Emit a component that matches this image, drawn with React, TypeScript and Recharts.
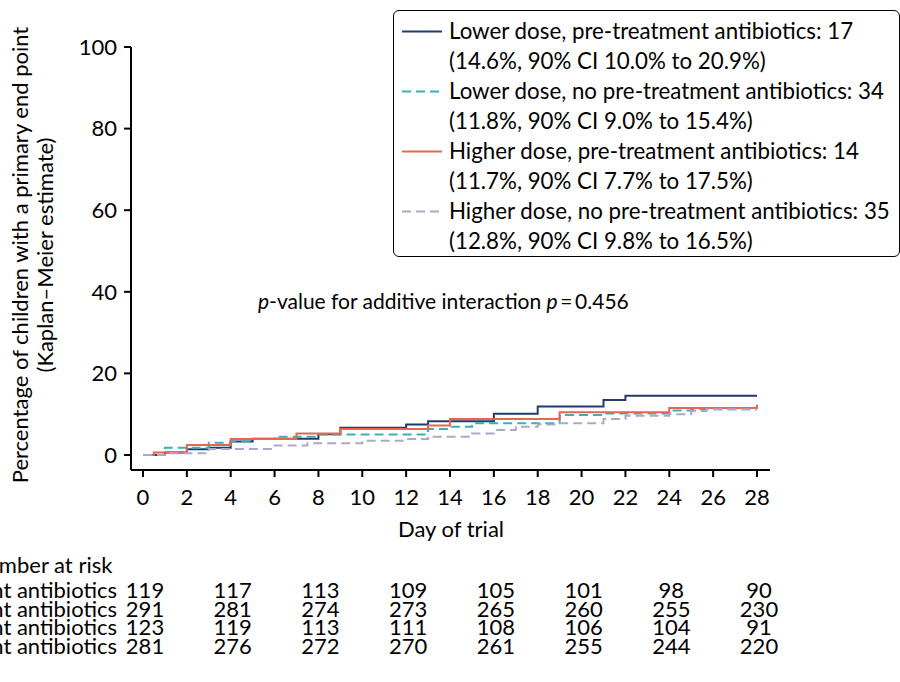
import React from 'react';
import { LineChart, Line, XAxis, YAxis, Customized } from 'recharts';

// Kaplan–Meier steps (day, % with primary end point)
const lowerPreDays = [0, 1, 2, 3, 4, 5, 8, 9, 12, 13, 16, 18, 21, 22, 28];
const lowerPreValues = [0, 0.6, 1.4, 1.8, 3.3, 4.0, 5.1, 6.7, 7.5, 8.3, 10.1, 11.9, 13.5, 14.5, 14.5];

const lowerNoDays = [0, 1, 3, 4, 5, 6, 8, 13, 14, 15, 19, 21, 24, 25, 28];
const lowerNoValues = [0, 1.8, 3.0, 3.4, 3.9, 4.5, 5.0, 6.4, 6.9, 7.8, 9.8, 10.2, 10.9, 11.2, 11.2];

const higherPreDays = [0, 0.5, 2, 4, 7, 9, 13, 14, 19, 24, 28];
const higherPreValues = [0, 0.6, 2.45, 3.9, 5.3, 6.4, 7.2, 8.8, 10.5, 11.5, 12.3];

const higherNoDays = [0, 1, 3, 6, 7.5, 10, 12, 13, 15, 16, 17, 18, 19, 21, 22, 24, 25, 25.7, 28];
const higherNoValues = [0, 0.4, 1.5, 2.3, 2.9, 3.5, 3.9, 4.5, 5.3, 6.1, 6.9, 7.5, 7.8, 8.8, 9.65, 10.0, 10.8, 11.2, 11.2];

const seriesNames = [
  'Lower dose, pre-treatment antibiotics',
  'Lower dose, no pre-treatment antibiotics',
  'Higher dose, pre-treatment antibiotics',
  'Higher dose, no pre-treatment antibiotics',
];
const seriesCounts = [17, 34, 14, 35];
const seriesCI = [
  '(14.6%, 90% CI 10.0% to 20.9%)',
  '(11.8%, 90% CI 9.0% to 15.4%)',
  '(11.7%, 90% CI 7.7% to 17.5%)',
  '(12.8%, 90% CI 9.8% to 16.5%)',
];
const seriesColors = ['#1f3c6e', '#35b3b6', '#ec6352', '#aaa9cc'];
const seriesDash = [undefined, '9 5', undefined, '9 5'];

const xTicks = [0, 2, 4, 6, 8, 10, 12, 14, 16, 18, 20, 22, 24, 26, 28];
const yTicks = [0, 20, 40, 60, 80, 100];

const riskDays = [0, 4, 8, 12, 16, 20, 24, 28];
const riskLowerPre = [119, 117, 113, 109, 105, 101, 98, 90];
const riskLowerNo = [291, 281, 274, 273, 265, 260, 255, 230];
const riskHigherPre = [123, 119, 113, 111, 108, 106, 104, 91];
const riskHigherNo = [281, 276, 272, 270, 261, 255, 244, 220];

const toPoints = (days: number[], vals: number[]) => days.map((d, i) => ({ day: d, pct: vals[i] }));
const seriesData = [
  toPoints(lowerPreDays, lowerPreValues),
  toPoints(lowerNoDays, lowerNoValues),
  toPoints(higherPreDays, higherPreValues),
  toPoints(higherNoDays, higherNoValues),
];
const riskRows = [riskLowerPre, riskLowerNo, riskHigherPre, riskHigherNo];

const FONT = 'Lato, "Open Sans", sans-serif';
const W = 900;
const H = 682;
const margin = { top: 47, right: 130, bottom: 172, left: 51 };
const padLeft = 12;
const padRight = 13;
const plotLeft = margin.left + 80;
const plotRight = W - margin.right;
const dayX = (d: number) => plotLeft + padLeft + (d / 28) * (plotRight - padRight - plotLeft - padLeft);

const TABLE_FS = 22;

const Annotations = () => (
  <g fontFamily={FONT} fill="#000">
    <text transform="translate(19,255) rotate(-90)" textAnchor="middle" dominantBaseline="central" fontSize={22}>
      Percentage of children with a primary end point
    </text>
    <text transform="translate(44,255) rotate(-90)" textAnchor="middle" dominantBaseline="central" fontSize={22}>
      (Kaplan–Meier estimate)
    </text>
    <text x={258} y={309} fontSize={21}>
      <tspan fontStyle="italic">p</tspan>-value for additive interaction <tspan fontStyle="italic">p</tspan>
      {'\u2009=\u20090.456'}
    </text>
    <text x={451} y={537} textAnchor="middle" fontSize={22}>Day of trial</text>
    <text x={-30} y={573} fontSize={TABLE_FS}>Number at risk</text>
    {riskRows.map((row, r) => (
      <g key={r}>
        <text x={117} y={598 + r * 18.7} textAnchor="end" fontSize={TABLE_FS}>{seriesNames[r]}</text>
        {row.map((n, i) => (
          <text key={i} x={dayX(riskDays[i]) + 2} y={598 + r * 18.7} textAnchor="middle" fontSize={TABLE_FS}>{n}</text>
        ))}
      </g>
    ))}
  </g>
);

const LegendBox = () => (
  <div
    style={{
      position: 'absolute',
      left: 393,
      top: 10,
      width: 507,
      height: 247,
      boxSizing: 'border-box',
      border: '1.5px solid #000',
      borderRadius: 6,
      background: '#fff',
      fontFamily: FONT,
      fontSize: 22.3,
      color: '#000',
    }}
  >
    {seriesNames.map((name, i) => (
      <div key={i} style={{ position: 'absolute', left: 0, top: 5 + i * 60, width: '100%' }}>
        <svg width={44} height={30} style={{ position: 'absolute', left: 7, top: 0 }}>
          <line x1={1} x2={41} y1={15.5} y2={15.5} stroke={seriesColors[i]} strokeWidth={2} strokeDasharray={seriesDash[i]} />
        </svg>
        <div style={{ position: 'absolute', left: 55, top: 0, lineHeight: '30px', whiteSpace: 'nowrap' }}>
          <div>{name}: {seriesCounts[i]}</div>
          <div>{seriesCI[i]}</div>
        </div>
      </div>
    ))}
  </div>
);

export default function App() {
  return (
    <div style={{ position: 'absolute', left: 0, top: 0, width: W, height: H, background: '#fff' }}>
      <LineChart width={W} height={H} margin={margin}>
        <XAxis
          type="number"
          dataKey="day"
          domain={[0, 28]}
          ticks={xTicks}
          padding={{ left: padLeft, right: padRight }}
          height={40}
          tickSize={7}
          tickMargin={12}
          axisLine={{ stroke: '#000', strokeWidth: 2 }}
          tickLine={{ stroke: '#000', strokeWidth: 2 }}
          tick={{ fill: '#000', fontSize: 22, fontFamily: FONT }}
          allowDuplicatedCategory={false}
        />
        <YAxis
          type="number"
          domain={[0, 100]}
          ticks={yTicks}
          width={80}
          padding={{ top: 0, bottom: 15 }}
          tickSize={7}
          tickMargin={7}
          axisLine={{ stroke: '#000', strokeWidth: 2 }}
          tickLine={{ stroke: '#000', strokeWidth: 2 }}
          tick={{ fill: '#000', fontSize: 22, fontFamily: FONT }}
        />
        {seriesData.map((d, i) => (
          <Line
            key={i}
            data={d}
            dataKey="pct"
            type="stepAfter"
            stroke={seriesColors[i]}
            strokeWidth={2}
            strokeDasharray={seriesDash[i]}
            dot={false}
            activeDot={false}
            isAnimationActive={false}
          />
        ))}
        <Customized component={<Annotations />} />
      </LineChart>
      <LegendBox />
    </div>
  );
}
